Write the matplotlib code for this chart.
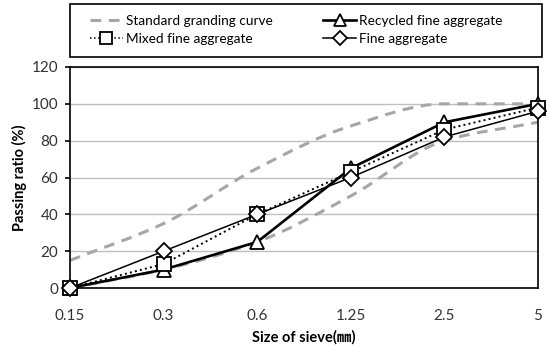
import matplotlib
matplotlib.use("Agg")
import matplotlib.pyplot as plt
import numpy as np
from matplotlib.lines import Line2D
from matplotlib.patches import PathPatch, Rectangle
from matplotlib.path import Path

plt.rcParams['font.family'] = ['Lato', 'Noto Sans CJK KR', 'DejaVu Sans']

# sieve sizes (mm) as category labels
sieves = ["0.15", "0.3", "0.6", "1.25", "2.5", "5"]

# passing ratio (%)
std_upper = [15, 35, 65, 88, 100, 100]
std_lower = [0, 10, 25, 50, 80, 90]
recycled = [0, 10, 25, 65, 90, 100]
mixed = [0, 13, 40, 63, 86, 98]
fine = [0, 20, 40, 60, 82, 96]

GRAY = '#a6a6a6'


def smooth_path(xs, ys):
    # monotone cubic tangents -> bezier control points (smoothed line)
    xs = np.asarray(xs, float)
    ys = np.asarray(ys, float)
    d = np.diff(ys) / np.diff(xs)
    m = np.zeros_like(ys)
    m[0], m[-1] = d[0], d[-1]
    for i in range(1, len(ys) - 1):
        if d[i - 1] * d[i] > 0:
            m[i] = 2 / (1 / d[i - 1] + 1 / d[i])
    verts = [(xs[0], ys[0])]
    codes = [Path.MOVETO]
    for i in range(len(xs) - 1):
        h = (xs[i + 1] - xs[i]) / 3
        verts += [(xs[i] + h, ys[i] + h * m[i]),
                  (xs[i + 1] - h, ys[i + 1] - h * m[i + 1]),
                  (xs[i + 1], ys[i + 1])]
        codes += [Path.CURVE4] * 3
    return Path(verts, codes)


fig = plt.figure(figsize=(5.5, 3.47), dpi=100)
ax = fig.add_axes([70 / 550, 1 - 288 / 347, 468 / 550, 221 / 347])

x = np.arange(len(sieves))

# ── standard grading envelope (dashed gray, smoothed) ──
for ys in (std_upper, std_lower):
    ax.add_patch(PathPatch(smooth_path(x, ys), fill=False, edgecolor=GRAY,
                           lw=2.2, linestyle=(0, (3.5, 2.5)), zorder=2,
                           capstyle='butt'))

ax.plot(x, recycled, '-', color='black', lw=1.9, marker='^', ms=10,
        mfc='white', mec='black', mew=1.3, zorder=4, clip_on=False)
ax.plot(x, mixed, ':', color='black', lw=1.4, marker='s', ms=9.5,
        mfc='white', mec='black', mew=1.3, zorder=5, clip_on=False)
ax.plot(x, fine, '-', color='black', lw=1.1, marker='D', ms=8,
        mfc='white', mec='black', mew=1.3, zorder=6, clip_on=False)

ax.set_xlim(0, len(sieves) - 1)
ax.set_ylim(0, 120)
ax.set_yticks(range(0, 121, 20))
ax.set_xticks(x)
ax.set_xticklabels(sieves)
ax.grid(axis='y', color='#bfbfbf', lw=1.0, zorder=0)
ax.set_axisbelow(True)
for s in ax.spines.values():
    s.set_color('black')
    s.set_linewidth(1.2)
ax.tick_params(axis='x', length=0, pad=15, labelsize=11)
ax.tick_params(axis='y', length=3.5, width=1.2, pad=5, labelsize=11,
               color='black')
for lab in ax.get_xticklabels() + ax.get_yticklabels():
    lab.set_color('#333333')

ax.set_xlabel("Size of sieve(㎜)", fontsize=10.5, fontweight='bold', labelpad=5)
ax.set_ylabel("Passing ratio (%)", fontsize=10.5, fontweight='bold', labelpad=3)

# ── legend (frame drawn separately so it spans the plot width) ──
fig.patches.append(Rectangle((70 / 550, 1 - 57 / 347), 472 / 550, 53 / 347,
                             transform=fig.transFigure, fill=False,
                             edgecolor='black', lw=1.2))
handles = [
    Line2D([], [], color=GRAY, lw=2.2, linestyle=(0, (3.5, 2.5))),
    Line2D([], [], color='black', lw=1.1, ls=':', marker='s', ms=8,
           mfc='white', mec='black', mew=1.3),
    Line2D([], [], color='black', lw=1.9, marker='^', ms=8,
           mfc='white', mec='black', mew=1.3),
    Line2D([], [], color='black', lw=1.1, marker='D', ms=7,
           mfc='white', mec='black', mew=1.3),
]
labels = ["Standard granding curve", "Mixed fine aggregate",
          "Recycled fine aggregate", "Fine aggregate"]
fig.legend(handles, labels, ncol=2, loc='upper left',
           bbox_to_anchor=(90 / 550, 1 - 15 / 347),
           fontsize=9.8, frameon=False, handlelength=2.4, handletextpad=0.25,
           borderpad=0, labelspacing=0.45, columnspacing=3.7, borderaxespad=0)

fig.savefig("out.png", dpi=100)
